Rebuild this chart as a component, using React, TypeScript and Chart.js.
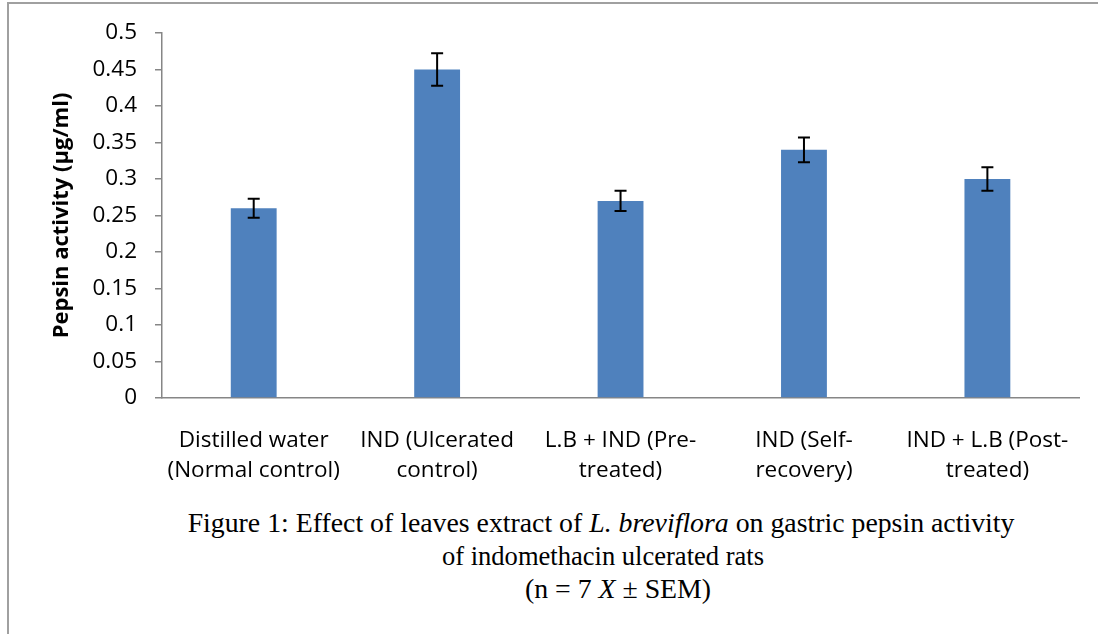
import React, { useEffect, useRef } from "react";
import { Chart, registerables } from "chart.js";

Chart.register(...registerables);

const categories: string[][] = [
  ["Distilled water", "(Normal control)"],
  ["IND (Ulcerated", "control)"],
  ["L.B + IND (Pre-", "treated)"],
  ["IND (Self-", "recovery)"],
  ["IND + L.B (Post-", "treated)"],
];
const pepsinValues: number[] = [0.26, 0.45, 0.27, 0.34, 0.3];
const semValues: number[] = [0.013, 0.0224, 0.014, 0.017, 0.016];
const yTickLabels: string[] = ["0", "0.05", "0.1", "0.15", "0.2", "0.25", "0.3", "0.35", "0.4", "0.45", "0.5"];
const yTitle = "Pepsin activity (µg/ml)";

const errorBarPlugin = {
  id: "errorBars",
  afterDatasetsDraw(chart: any) {
    const ctx = chart.ctx;
    const meta = chart.getDatasetMeta(0);
    const y = chart.scales.y;
    ctx.save();
    ctx.strokeStyle = "#000";
    ctx.lineWidth = 2;
    meta.data.forEach((bar: any, i: number) => {
      const v = pepsinValues[i];
      const e = semValues[i];
      const x = bar.x;
      const yt = y.getPixelForValue(v + e);
      const yb = y.getPixelForValue(v - e);
      ctx.beginPath();
      ctx.moveTo(x, yt);
      ctx.lineTo(x, yb);
      ctx.moveTo(x - 6, yt);
      ctx.lineTo(x + 6, yt);
      ctx.moveTo(x - 6, yb);
      ctx.lineTo(x + 6, yb);
      ctx.stroke();
    });
    ctx.restore();
  },
};

export default function App() {
  const ref = useRef<HTMLCanvasElement | null>(null);
  useEffect(() => {
    if (!ref.current) return;
    const chart = new Chart(ref.current, {
      type: "bar",
      data: {
        labels: categories,
        datasets: [
          {
            data: pepsinValues,
            backgroundColor: "#4f81bd",
            borderWidth: 0,
            barPercentage: 0.5,
            categoryPercentage: 0.5,
          },
        ],
      },
      options: {
        responsive: false,
        animation: false,
        devicePixelRatio: 1,
        layout: { padding: { left: 49, right: 17, top: 33, bottom: 0 } },
        plugins: { legend: { display: false }, tooltip: { enabled: false } },
        scales: {
          x: {
            grid: { display: false, drawTicks: false },
            border: { display: true, color: "#868686", width: 1.5 },
            ticks: {
              color: "#000",
              padding: 28,
              maxRotation: 0,
              autoSkip: false,
              font: { family: "'Open Sans'", size: 22.5, lineHeight: 1.33 },
            },
            afterFit: (s: any) => {
              s.height = 102;
            },
          },
          y: {
            min: 0,
            max: 0.5,
            grid: { display: true, drawOnChartArea: false, drawTicks: true, tickLength: 7, color: "#868686", lineWidth: 1.5 },
            border: { display: true, color: "#868686", width: 1.5 },
            ticks: {
              stepSize: 0.05,
              color: "#000",
              padding: 18,
              font: { family: "'Open Sans'", size: 22.5 },
              callback: (_v: any, i: number) => yTickLabels[i],
            },
            title: {
              display: true,
              text: yTitle,
              color: "#000",
              padding: 0,
              font: { family: "'Open Sans'", size: 22, weight: "bold" },
            },
            afterFit: (s: any) => {
              s.width = 113;
            },
          },
        },
      },
      plugins: [errorBarPlugin],
    });
    return () => chart.destroy();
  }, []);

  const serif = "'Liberation Serif', 'Times New Roman', serif";
  const lineStyle = (top: number, cx: number, sx = 1): React.CSSProperties => ({
    position: "absolute",
    top,
    left: cx - 500,
    width: 1000,
    textAlign: "center",
    fontFamily: serif,
    fontSize: 27.8,
    lineHeight: "30px",
    color: "#000",
    whiteSpace: "nowrap",
    transform: sx !== 1 ? `scaleX(${sx})` : undefined,
  });

  return (
    <div style={{ position: "fixed", left: 0, top: 0, width: 1098, height: 634, background: "#fff", overflow: "hidden" }}>
      <div
        style={{
          position: "absolute",
          left: 7,
          top: 2,
          width: 1200,
          height: 800,
          borderTop: "2px solid #a0a0a0",
          borderLeft: "2px solid #a0a0a0",
        }}
      />
      <canvas ref={ref} width={1098} height={500} style={{ position: "absolute", left: 0, top: 0, width: 1098, height: 500 }} />
      <div style={lineStyle(508, 601)}>
        Figure 1: Effect of leaves extract of <i>L. breviflora</i> on gastric pepsin activity
      </div>
      <div style={lineStyle(541, 603, 0.955)}>of indomethacin ulcerated rats</div>
      <div style={lineStyle(574, 618)}>
        (n = 7 <i>X</i> ± SEM)
      </div>
    </div>
  );
}
